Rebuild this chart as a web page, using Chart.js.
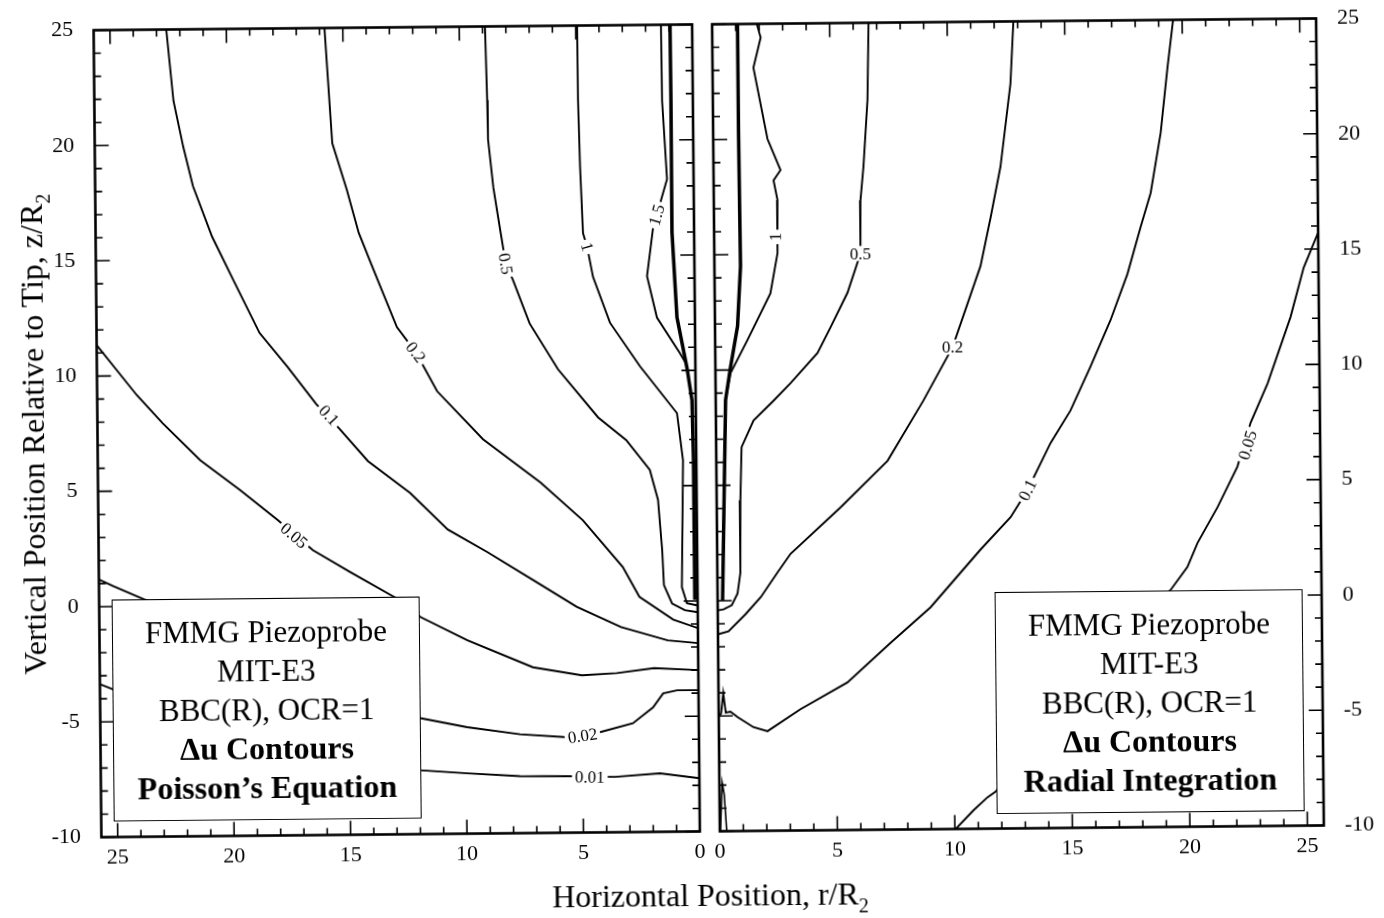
<!DOCTYPE html>
<html>
<head>
<meta charset="utf-8">
<script src="https://cdn.jsdelivr.net/npm/chart.js@4/dist/chart.umd.min.js"></script>
<style>
  html, body { margin: 0; padding: 0; background: #fff; }
  #wrap {
    position: relative; width: 1384px; height: 918px;
    transform: rotate(-0.55deg); transform-origin: 692px 430px;
    font-family: "Liberation Serif", "Times New Roman", serif; color: #000;
  }
  canvas { position: absolute; top: 0; }
  .note {
    position: absolute; box-sizing: border-box; width: 308px; height: 222px;
    border: 1.5px solid #000; background: #fff; text-align: center;
    font-size: 31px; line-height: 39px; padding-top: 13px; white-space: nowrap;
  }
  .note .b { font-weight: bold; font-size: 32px; }
  .xtitle {
    position: absolute; left: 406px; width: 600px; top: 876px;
    text-align: center; font-size: 32px; line-height: 38px; white-space: nowrap;
  }
  .ytitle {
    position: absolute; left: -317px; top: 408px; width: 700px; height: 40px;
    text-align: center; font-size: 32px; line-height: 40px; white-space: nowrap;
    transform: rotate(-90deg);
  }
  sub { font-size: 20px; vertical-align: baseline; position: relative; top: 8px; }
</style>
</head>
<body>
<div id="wrap">
  <canvas id="poisson" width="706" height="918" style="left:0;width:706px;height:918px"></canvas>
  <canvas id="radial" width="678" height="918" style="left:706px;width:678px;height:918px"></canvas>

  <div class="note" style="left:110px;top:594px;">
    <div>FMMG Piezoprobe</div><div>MIT-E3</div><div>BBC(R), OCR=1</div>
    <div class="b">Δu Contours</div><div class="b">Poisson’s Equation</div>
  </div>
  <div class="note" style="left:993px;top:595px;">
    <div>FMMG Piezoprobe</div><div>MIT-E3</div><div>BBC(R), OCR=1</div>
    <div class="b">Δu Contours</div><div class="b">Radial Integration</div>
  </div>

  <div class="xtitle">Horizontal Position, r/R<sub>2</sub></div>
  <div class="ytitle">Vertical Position Relative to Tip, z/R<sub>2</sub></div>
</div>

<script>
// Axis extents (r/R2 horizontally, z/R2 vertically)
const rMax = 25.7;
const zMin = -10;
const zMax = 25;

// ---- Poisson's Equation solution: contour lines as [r, z] pairs ----
const poisson_001 = [[25.8,-3.32],[25.13,-3.6],[11.99,-7.23],[9.97,-7.38],[7.7,-7.53],[5.68,-7.55],[3.62,-7.6],[1.69,-7.46],[0,-7.69]];
const poisson_002 = [[25.8,1.23],[25.08,0.88],[11.96,-4.97],[9.95,-5.38],[7.68,-5.71],[5.67,-5.86],[4.24,-5.65],[2.83,-5.28],[1.96,-4.6],[1.52,-4.0],[0.92,-3.87],[0,-3.87]];
const poisson_005 = [[25.8,11.47],[24.0,9.16],[22.9,7.93],[21.3,6.31],[19.6,5.0],[18.0,3.68],[16.5,2.36],[14.9,1.39],[13.0,0.28],[11.9,-0.59],[9.9,-1.61],[7.1,-2.81],[5.0,-3.18],[3.5,-3.1],[1.9,-2.9],[0,-3.0]];
const poisson_01  = [[22.6,25.2],[22.3,21.9],[21.9,19.9],[21.5,18.2],[20.7,16.0],[19.8,14.1],[18.7,11.8],[17.5,10.3],[16.3,8.7],[15.3,7.6],[14.1,6.2],[12.3,4.8],[10.7,3.2],[9.0,2.2],[7.1,1.0],[5.2,-0.2],[3.3,-1.1],[1.3,-1.7],[0,-1.83]];
const poisson_02  = [[15.8,25.2],[15.65,22.6],[15.5,20.0],[14.9,18.0],[14.4,16.1],[13.9,14.8],[12.8,12.0],[12.0,10.9],[11.1,9.2],[9.15,7.1],[6.7,5.2],[4.9,3.55],[3.2,1.5],[2.5,0.2],[1.06,-0.8],[0,-1.18]];
const poisson_05  = [[8.9,25.2],[8.83,21.8],[8.81,20.1],[8.6,18.0],[8.3,16.0],[8.1,14.7],[7.8,14.0],[7.1,12.1],[5.9,10.1],[4.2,8.0],[3.0,7.0],[2.0,5.7],[1.66,4.4],[1.5,2.2],[1.44,0.7],[1.1,-0.1],[0.55,-0.4],[0,-0.49]];
const poisson_1   = [[4.94,25.2],[4.93,21.8],[4.87,18.9],[4.77,16.0],[4.6,15.4],[4.36,14.1],[3.65,12.1],[2.38,10.2],[0.81,8.15],[0.57,6.1],[0.67,0.6],[0.46,-0.1],[0,-0.2]];
const poisson_15  = [[1.34,25.2],[1.32,21.7],[1.14,18.3],[1.76,16.2],[2.04,14.1],[1.63,12.3],[0.66,10.75],[0.4,10.3]];
const poisson_probe = [[0.95,25.2],[0.94,21.7],[0.95,16.0],[0.77,12.3],[0.36,10.1],[0.16,8.7],[0.12,6.1],[0.12,0.05]];

const poissonLevels = [0.01, 0.02, 0.05, 0.1, 0.2, 0.5, 1, 1.5];
const poissonLines  = [poisson_001, poisson_002, poisson_005, poisson_01, poisson_02, poisson_05, poisson_1, poisson_15];
const poissonLabelAt = [[4.7,-7.6],[5.0,-5.8],[17.3,3.0],[15.75,8.2],[12.0,10.9],[8.1,14.7],[4.6,15.4],[1.6,16.75]];

// ---- Radial Integration solution ----
const radial_005 = [[25.8,15.95],[25.07,14.2],[24.49,12.06],[23.49,9.2],[22.75,7.5],[22.17,5.6],[21.31,3.85],[20.44,2.3],[20.0,1.26],[19.27,0.27],[11.75,-8.4],[11.4,-8.64],[10.8,-9.2],[9.94,-10.1]];
const radial_01  = [[19.64,25.2],[19.36,22.96],[19.04,20.1],[18.59,17.5],[18.14,16.0],[17.57,14.0],[16.83,12.0],[15.96,10.0],[15.09,8.1],[14.23,6.7],[13.23,4.67],[12.5,3.5],[11.2,2.1],[9.06,-0.37],[7.34,-1.9],[5.49,-3.6],[3.48,-4.74],[2.07,-5.68],[1.47,-5.5],[0.8,-5.06],[0.5,-4.82],[0.3,-4.86],[0.2,-4.02],[0.1,-4.9],[0,-5.0]];
const radial_02  = [[12.83,25.2],[12.67,22.3],[12.21,18.7],[11.77,16.5],[11.32,14.4],[10.1,10.9],[8.84,8.6],[7.29,6.0],[5.27,4.0],[3.12,2.0],[2.56,1.2],[1.84,0.14],[1.18,-0.6],[0.45,-1.33],[0,-1.46]];
const radial_05  = [[6.66,25.2],[6.58,21.65],[6.38,18.75],[6.24,17.3],[6.22,15.0],[5.65,13.3],[4.91,11.8],[4.35,10.7],[3.19,9.4],[2.46,8.65],[1.6,7.8],[1.08,6.65],[1.01,4.35],[0.98,1.2],[0.85,0.3],[0.6,-0.2],[0.25,-0.38],[0,-0.42]];
const radial_1   = [[1.85,25.2],[2.06,24.4],[1.74,23.1],[2.31,20.0],[2.85,18.65],[2.55,18.2],[2.71,17.35],[2.69,15.05],[2.37,13.3],[1.38,11.3],[0.64,9.86],[0.42,8.7]];
const radial_probe = [[1.08,25.2],[1.08,20.3],[1.11,14.5],[0.96,11.9],[0.64,10.1],[0.42,8.7],[0.21,0.0]];
const radial_spike = [[0.02,-10.1],[0.12,-7.9],[0.2,-8.4],[0.3,-10.1]];

const radialLevels = [0.05, 0.1, 0.2, 0.5, 1];
const radialLines  = [radial_005, radial_01, radial_02, radial_05, radial_1];
const radialLabelAt = [[22.61,6.53],[13.23,4.67],[10.1,10.9],[6.22,15.0],[2.61,15.75]];
const radialUpright = [false, false, true, true, false];

// ---- shared styling ----
const FONT = '"Liberation Serif", "Times New Roman", serif';

function lineSet(points, width) {
  return {
    data: points.map(([r, z]) => ({ x: r, y: z })),
    showLine: true, fill: false,
    borderColor: '#000', borderWidth: width,
    pointRadius: 0, pointHoverRadius: 0, tension: 0
  };
}

function contourSets(lines, levels, labelAt, upright) {
  return lines.map((pts, i) => Object.assign(lineSet(pts, 1.9), {
    level: levels[i],
    labelAt: labelAt[i],
    upright: upright ? upright[i] : false
  }));
}

// Inline contour labels: white gap in the line, text rotated along it
const contourLabels = {
  id: 'contourLabels',
  afterDatasetsDraw(chart) {
    const { ctx, scales: { x, y } } = chart;
    ctx.save();
    ctx.font = '17px ' + FONT;
    chart.data.datasets.forEach(ds => {
      if (!ds.labelAt) return;
      const px = x.getPixelForValue(ds.labelAt[0]);
      const py = y.getPixelForValue(ds.labelAt[1]);
      let ang = 0;
      if (!ds.upright) {
        let best = Infinity;
        for (let k = 0; k < ds.data.length - 1; k++) {
          const ax = x.getPixelForValue(ds.data[k].x), ay = y.getPixelForValue(ds.data[k].y);
          const bx = x.getPixelForValue(ds.data[k + 1].x), by = y.getPixelForValue(ds.data[k + 1].y);
          const dx = bx - ax, dy = by - ay;
          const L2 = dx * dx + dy * dy || 1;
          let t = ((px - ax) * dx + (py - ay) * dy) / L2;
          t = Math.max(0, Math.min(1, t));
          const qx = ax + t * dx - px, qy = ay + t * dy - py;
          const d = qx * qx + qy * qy;
          if (d < best) { best = d; ang = Math.atan2(dy, dx); }
        }
        if (ang > Math.PI / 2) ang -= Math.PI;
        if (ang <= -Math.PI / 2) ang += Math.PI;
      }
      const text = String(ds.level);
      const w = ctx.measureText(text).width;
      ctx.save();
      ctx.translate(px, py);
      ctx.rotate(ang);
      ctx.fillStyle = '#fff';
      ctx.fillRect(-w / 2 - 3, -7.5, w + 6, 15);
      ctx.fillStyle = '#000';
      ctx.textAlign = 'center';
      ctx.textBaseline = 'middle';
      ctx.fillText(text, 0, 1);
      ctx.restore();
    });
    ctx.restore();
  }
};

// Frame around the plotting area with inward major/minor ticks on every side
const frameTicks = {
  id: 'frameTicks',
  afterDraw(chart) {
    const { ctx, chartArea: a, scales: { x, y } } = chart;
    ctx.save();
    ctx.strokeStyle = '#000';
    ctx.lineWidth = 1.6;
    ctx.beginPath();
    x.ticks.forEach(t => {
      const px = x.getPixelForValue(t.value);
      const len = t.value % 5 === 0 ? 14 : 7;
      ctx.moveTo(px, a.bottom); ctx.lineTo(px, a.bottom - len);
      ctx.moveTo(px, a.top); ctx.lineTo(px, a.top + len);
    });
    y.ticks.forEach(t => {
      const py = y.getPixelForValue(t.value);
      const len = t.value % 5 === 0 ? 14 : 7;
      ctx.moveTo(a.left, py); ctx.lineTo(a.left + len, py);
      ctx.moveTo(a.right, py); ctx.lineTo(a.right - len, py);
    });
    ctx.stroke();
    ctx.lineWidth = 2.6;
    ctx.strokeRect(a.left, a.top, a.right - a.left, a.bottom - a.top);
    ctx.restore();
  }
};

function fifths(v) { return Math.round(v) % 5 === 0 ? String(Math.round(v)) : ''; }

function makeChart(id, datasets, side) {
  const tickFont = { family: FONT, size: 22 };
  return new Chart(document.getElementById(id), {
    type: 'scatter',
    data: { datasets },
    options: {
      responsive: false, animation: false, devicePixelRatio: 1,
      layout: { autoPadding: false, padding: side === 'left'
        ? { top: 24.5, right: 10, left: 0, bottom: 0 }
        : { top: 24.5, right: 0, left: 10, bottom: 0 } },
      plugins: { legend: { display: false }, tooltip: { enabled: false } },
      events: [],
      scales: {
        x: {
          type: 'linear', min: 0, max: rMax, reverse: side === 'left',
          // tick marks are drawn inward by the frame plugin; the tick length here only spaces the labels
          grid: { display: false, drawTicks: true, tickLength: 8 }, border: { display: false },
          ticks: { stepSize: 1, autoSkip: false, includeBounds: false, maxRotation: 0,
                   padding: 0, color: '#000', font: tickFont, callback: fifths },
          afterFit: s => { s.height = 86.5; }
        },
        y: {
          type: 'linear', min: zMin, max: zMax, position: side,
          grid: { display: false, drawTicks: true, tickLength: side === 'left' ? 20.5 : 21 }, border: { display: false },
          ticks: { stepSize: 1, autoSkip: false, includeBounds: false,
                   padding: 0, color: '#000', font: tickFont, callback: fifths },
          afterFit: s => { s.width = side === 'left' ? 97.5 : 64; }
        }
      }
    },
    plugins: [contourLabels, frameTicks]
  });
}

makeChart('poisson',
  contourSets(poissonLines, poissonLevels, poissonLabelAt).concat([lineSet(poisson_probe, 3.5)]),
  'left');

makeChart('radial',
  contourSets(radialLines, radialLevels, radialLabelAt, radialUpright)
    .concat([lineSet(radial_probe, 3.5), lineSet(radial_spike, 1.6)]),
  'right');
</script>
</body>
</html>
